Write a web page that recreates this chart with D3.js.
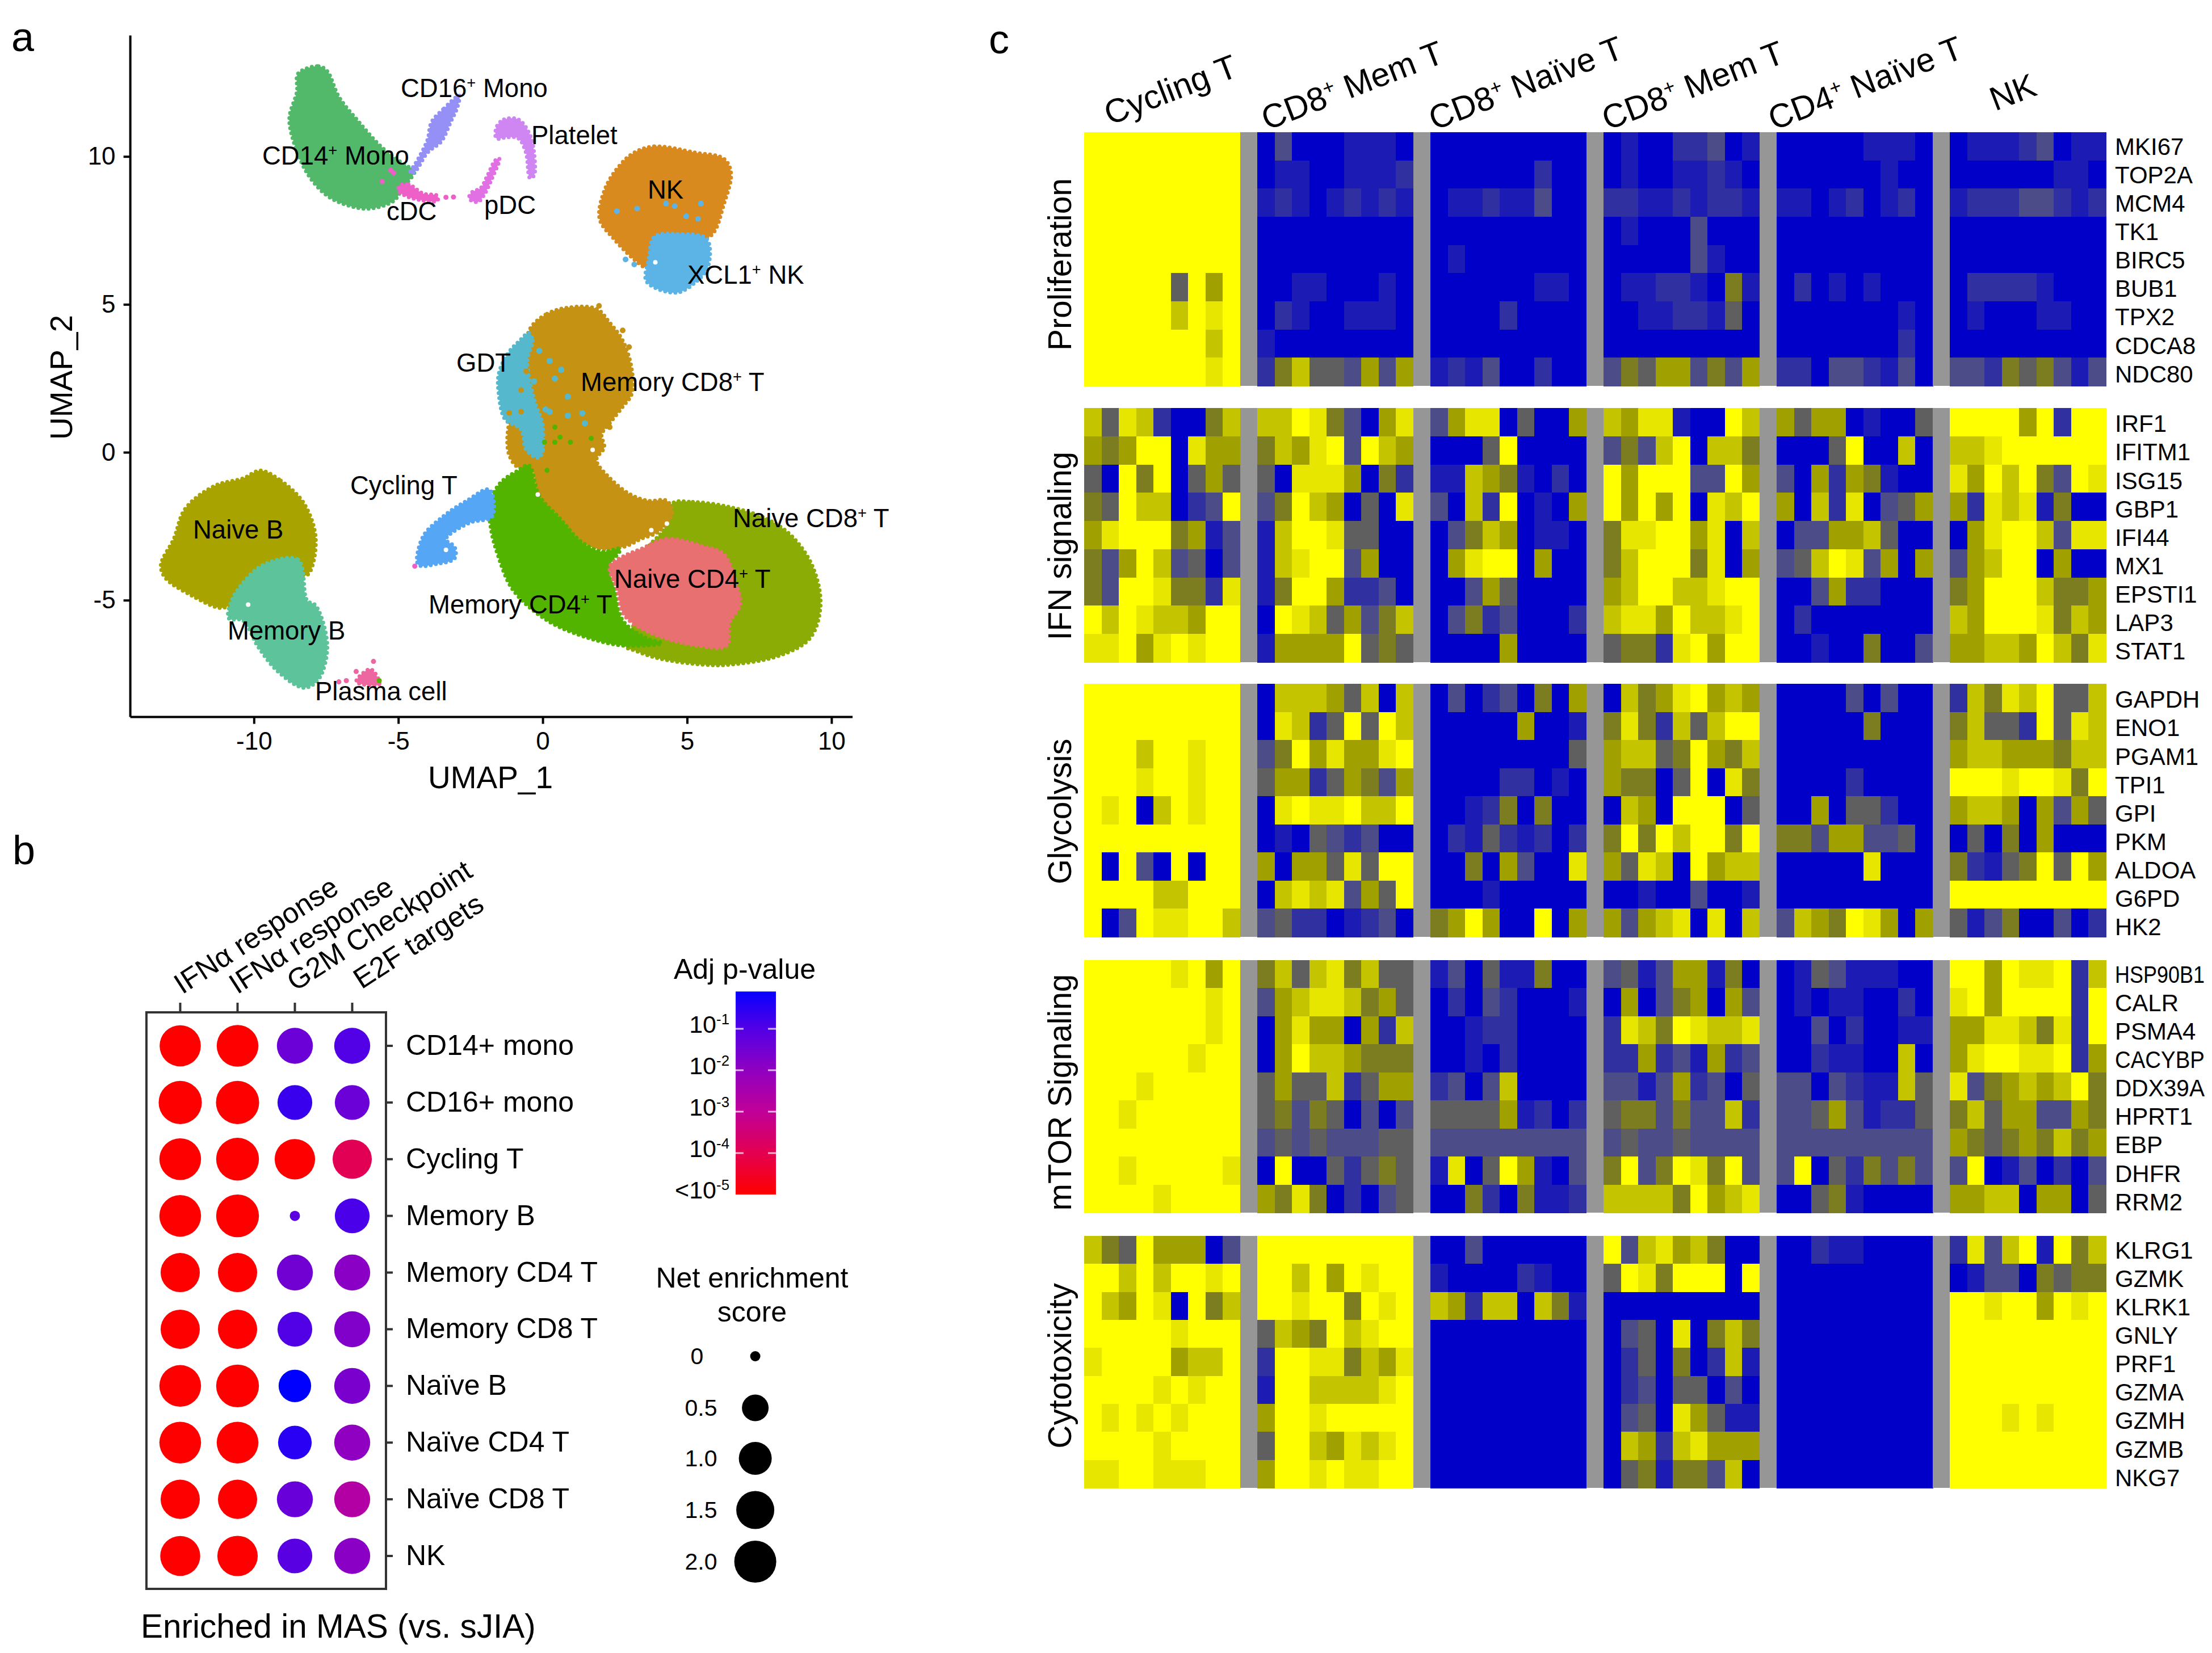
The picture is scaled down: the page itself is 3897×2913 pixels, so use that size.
<!DOCTYPE html>
<html><head><meta charset="utf-8"><script src="https://cdn.jsdelivr.net/npm/d3@7"></script>
<style>html,body{margin:0;padding:0;background:#fff}svg{display:block}text{font-family:"Liberation Sans",Arial,sans-serif;fill:#000}</style>
</head><body><svg id="c" width="3897" height="2913"></svg>
<script>
// ---------- Panel a: cluster outlines, in UMAP units [x,y]
const naiveCD8 = [[4.48,-1.73],[5.20,-1.68],[6.47,-1.85],[7.73,-2.24],[8.63,-2.84],[9.35,-3.87],[9.62,-5.16],[9.26,-6.28],[8.18,-6.88],[6.47,-7.18],[5.56,-7.18],[4.03,-6.97],[3.22,-6.71],[2.86,-6.54],[3.76,-4.65],[3.58,-3.36],[4.21,-2.59]];
const memoryCD8 = [[-0.39,4.25],[0.15,4.68],[0.87,4.89],[1.86,4.85],[2.32,4.38],[2.77,3.78],[3.08,2.83],[3.08,1.97],[2.77,1.54],[2.32,0.98],[2.04,0.60],[2.13,0.17],[1.86,-0.26],[2.32,-0.87],[3.04,-1.43],[3.67,-1.64],[4.30,-1.64],[4.48,-2.07],[4.03,-2.67],[3.40,-2.93],[2.86,-3.18],[1.95,-3.27],[1.32,-3.01],[0.60,-2.24],[-0.12,-1.47],[-0.39,-0.52],[-0.84,-0.52],[-1.16,-0.09],[-1.20,0.77],[-0.75,2.23],[-0.57,3.78]];
const memoryCD4 = [[-0.48,-0.44],[-0.12,-1.47],[0.60,-2.24],[1.32,-3.01],[2.04,-3.36],[2.68,-3.27],[2.32,-3.87],[2.50,-4.65],[2.77,-5.68],[3.58,-6.28],[4.12,-6.45],[2.86,-6.54],[1.59,-6.28],[0.15,-5.68],[-1.03,-4.65],[-1.56,-3.45],[-1.79,-2.59],[-1.84,-1.73],[-1.47,-1.04],[-0.84,-0.61]];
const gdt = [[-0.48,4.03],[-0.35,3.78],[-0.53,3.09],[-0.30,1.80],[0.01,0.85],[-0.12,-0.18],[-0.57,0.08],[-0.75,0.77],[-1.30,1.11],[-1.52,1.97],[-1.52,2.66],[-1.20,3.35],[-0.84,3.73]];
const naiveCD4 = [[3.40,-3.27],[4.30,-2.93],[5.56,-3.18],[6.28,-3.45],[6.65,-4.30],[6.83,-5.16],[6.47,-5.76],[6.37,-6.54],[5.38,-6.54],[4.21,-6.28],[3.22,-5.85],[2.77,-5.42],[2.59,-4.65],[2.32,-3.87],[2.77,-3.53]];
const cyclingT = [[-1.85,-1.26],[-1.75,-2.17],[-2.55,-2.39],[-3.35,-2.94],[-3.05,-3.20],[-3.05,-3.59],[-3.65,-3.77],[-4.31,-3.80],[-4.15,-2.86],[-3.45,-2.17],[-2.65,-1.65]];
const naiveB = [[-9.77,-0.62],[-9.07,-0.96],[-8.26,-1.74],[-7.86,-2.94],[-8.16,-4.15],[-8.77,-3.97],[-10.17,-4.49],[-10.57,-4.92],[-11.07,-5.26],[-12.18,-4.83],[-13.08,-4.23],[-13.22,-3.80],[-12.78,-2.94],[-12.38,-1.91],[-11.37,-1.14],[-10.37,-0.88]];
const memoryB = [[-9.67,-3.80],[-8.47,-3.63],[-8.16,-5.01],[-7.86,-5.18],[-7.46,-6.55],[-7.76,-7.67],[-8.26,-7.96],[-9.17,-7.41],[-9.87,-6.55],[-10.37,-5.69],[-10.87,-5.61],[-10.77,-5.01],[-10.37,-4.40]];
const plasmaCell = [[-5.96,-7.33],[-5.66,-7.84],[-6.46,-7.76]];
const cd14Mono = [[-8.47,12.80],[-7.76,13.05],[-7.46,12.88],[-7.06,12.02],[-6.36,11.16],[-5.56,10.30],[-4.75,9.70],[-4.43,9.53],[-4.85,8.93],[-5.16,8.50],[-5.96,8.24],[-6.66,8.32],[-7.46,8.67],[-8.16,9.44],[-8.67,10.65],[-8.77,11.33],[-8.51,12.19]];
const cd16Mono = [[-2.89,12.06],[-3.45,11.59],[-3.85,11.16],[-3.99,10.56],[-4.31,9.92],[-4.59,9.44],[-4.43,9.48],[-3.99,10.13],[-3.51,10.51],[-3.19,11.16],[-2.95,11.68]];
const platelet = [[-1.60,10.99],[-1.34,11.25],[-0.84,11.25],[-0.44,10.73],[-0.30,10.13],[-0.30,9.36],[-0.44,9.27],[-0.58,10.13],[-0.84,10.61],[-1.24,10.65],[-1.60,10.61]];
const pDC = [[-1.64,9.87],[-1.50,9.92],[-1.75,9.27],[-2.05,8.67],[-2.25,8.46],[-2.55,8.58],[-2.45,8.79],[-2.15,8.93],[-1.91,9.36]];
const cDC = [[-4.95,9.01],[-4.65,9.06],[-4.15,8.75],[-3.65,8.67],[-3.65,8.50],[-4.25,8.53],[-4.75,8.67],[-5.0,8.84]];
const nkCells = [[3.17,10.13],[3.87,10.34],[5.28,10.13],[6.28,9.92],[6.52,9.44],[6.28,8.41],[5.78,7.29],[4.27,7.21],[3.67,6.69],[3.57,6.26],[3.17,6.52],[2.47,7.21],[1.97,7.89],[2.17,8.93],[2.67,9.70]];
const xcl1NK = [[3.87,7.29],[4.67,7.38],[5.68,7.21],[5.72,6.26],[5.28,5.74],[4.67,5.40],[3.87,5.57],[3.57,5.83],[3.67,6.52]];
const clusterNames = ["Naive CD8","Naive B","Memory CD8","Memory CD4","GDT","Naive CD4","Cycling T","Memory B","Plasma","CD14 Mono","CD16 Mono","Platelet","pDC","cDC","NK","XCL1 NK"];
const clusterOutlines = [naiveCD8,naiveB,memoryCD8,memoryCD4,gdt,naiveCD4,cyclingT,memoryB,plasmaCell,cd14Mono,cd16Mono,platelet,pDC,cDC,nkCells,xcl1NK];
const clusterColors = ["#8BAB05","#A9A300","#C69214","#53B400","#55B8CC","#E87070","#55A6F5","#5CC39A","#EE66A0","#53B96A","#9590F5","#CF85F2","#E070E4","#EE5FC8","#D98A1E","#5BB4E5"];
const xcl1Strays = [[2.57,8.15],[3.27,8.24],[4.27,8.41],[4.57,8.32],[4.97,7.98],[5.48,8.41],[5.38,7.89],[2.87,6.52],[3.17,6.35]];
const gdtStrays = [[-0.12,3.43],[0.24,3.09],[0.64,2.79],[0.42,2.49],[0.87,1.88],[1.37,1.32],[1.46,0.98],[0.87,1.24],[-0.30,2.40],[0.10,1.45],[0.24,1.37],[-0.48,0.51],[-0.03,0.08]];
const cd8Strays = [[-0.75,2.10],[-0.57,2.74],[-1.16,1.33],[-0.75,1.37],[2.77,4.12],[2.99,3.56],[2.32,0.85],[1.95,4.95]];
const cd4Strays = [[0.42,0.85],[0.06,0.34],[1.68,0.47],[0.96,0.34],[0.42,0.34],[0.15,-0.61],[0.60,0.51],[-5.66,-7.72]];
const pinkStrays = [[-5.56,9.15],[-5.26,9.53],[-5.16,9.44],[-3.09,8.63],[-3.35,8.62],[-4.43,-3.85]];
const plasmaStrays = [[-5.86,-7.07],[-7.06,-7.76],[-6.80,-7.72],[-6.46,-7.41]];
const whiteGaps = [[3.9,6.42],[-10.2,-5.15],[-3.35,-3.3],[-0.17,-1.43],[2.95,-3.31],[3.76,-2.63],[4.30,-2.41],[1.73,0.08]];
const umapTicksX = [-10,-5,0,5,10];
const umapTicksY = [-5,0,5,10];
const umapLabels = ["CD16^+^ Mono","Platelet","CD14^+^ Mono","cDC","pDC","NK","XCL1^+^ NK","GDT","Memory CD8^+^ T","Cycling T","Naive CD8^+^ T","Naive B","Naive CD4^+^ T","Memory CD4^+^ T","Memory B","Plasma cell"];

// ---------- Panel b
const pathways = ["IFNα response","IFNα response","G2M Checkpoint","E2F targets"];
const cellTypes = ["CD14+ mono","CD16+ mono","Cycling T","Memory B","Memory CD4 T","Memory CD8 T","Naïve B","Naïve CD4 T","Naïve CD8 T","NK"];
const nesIfnA = [1.9,2.15,1.96,1.96,1.65,1.65,1.96,1.96,1.65,1.75];
const nesIfnB = [1.96,2.15,2.1,2.1,1.65,1.65,2.1,1.96,1.65,1.8];
const nesG2M = [1.3,1.18,1.8,0,1.3,1.18,0.97,1.07,1.3,1.18];
const nesE2F = [1.3,1.18,1.65,1.18,1.3,1.3,1.3,1.3,1.3,1.3];
const logpIfnA = [-5,-5,-5,-5,-5,-5,-5,-5,-5,-5];
const logpIfnB = [-5,-5,-5,-5,-5,-5,-5,-5,-5,-5];
const logpG2M = [-1.4,-0.7,-5,-1.15,-1.5,-1.0,0,-0.5,-1.35,-1.1];
const logpE2F = [-1.0,-1.4,-3.95,-0.9,-1.9,-1.75,-1.65,-2.0,-2.7,-1.9];
const pLegendTicks = [-1,-2,-3,-4,-5];
const nesLegend = [0,0.5,1.0,1.5,2.0];
const nesLegendLabels = ["0","0.5","1.0","1.5","2.0"];

// ---------- Panel c: expression levels, 0 (blue) .. 9 (yellow), six groups per gene
const groupHeaders = ["Cycling T","CD8^+^ Mem T","CD8^+^ Naïve T","CD8^+^ Mem T","CD4^+^ Naïve T","NK"];
const proliferationGenes = ["MKI67","TOP2A","MCM4","TK1","BIRC5","BUB1","TPX2","CDCA8","NDC80"];
const proliferation = [
"999999999 030001110 000000000 010022301 000001110 011123011",
"999999999 011001112 000000200 010011210 000000100 000000110",
"999999999 121012121 011211300 221121221 110120120 122233212",
"999999999 000000000 000000000 010003000 000000000 000000000",
"999999999 000000000 010000000 000003100 000000000 000000000",
"999994969 001100010 000000110 011221051 020101000 022221000",
"999997989 021001110 000020000 001122140 000000010 010001100",
"999999979 100000000 000000000 000000000 000000020 000000000",
"999999989 257443636 121300200 354663536 220332130 332545313"];
const ifnGenes = ["IRF1","IFITM1","ISG15","GBP1","IFI44","MX1","EPSTI1","LAP3","STAT1"];
const ifnSignaling = [
"748720057 779853068 368804006 768810097 646601004 999969299",
"656990866 576893976 000490000 353790775 000490070 778999999",
"409590464 408886052 117651020 969993396 306265100 869795398",
"549770239 359760408 307290106 969690879 607280346 628781500",
"689995613 179984400 035760110 588996807 033667400 068997388",
"536973403 178993600 068990600 579995806 347983606 367990600",
"539985528 159962230 003640000 679977899 003622000 569997556",
"979877699 098746357 035230002 788697789 020000000 769998576",
"889689899 166669454 000060000 455289699 001005003 667769758"];
const glycolysisGenes = ["GAPDH","ENO1","PGAM1","TPI1","GPI","PKM","ALDOA","G6PD","HK2"];
const glycolysis = [
"999999999 077764707 030230506 075689676 000030300 275879447",
"999999999 087249497 000006001 585274799 000005000 574429487",
"999799899 359686689 000000004 677459657 000000000 677666577",
"999899899 466246536 000022010 655049085 000020000 999899859",
"989079899 089889779 001250500 076099904 006044200 677606364",
"999999999 010432300 021421202 595979959 553663340 040506000",
"909309099 606648499 005063008 648709677 000008000 521459496",
"999977999 078783649 000100000 001003001 000000000 999999999",
"903988997 342201230 569600906 636780807 376598606 413500302"];
const mtorGenes = ["HSP90B1","CALR","PSMA4","CACYBP","DDX39A","HPRT1","EBP","DHFR","RRM2"];
const mtorSignaling = [
"999998969 574785744 130411500 341366150 014311100 996988927",
"999999989 367887564 020320001 060356063 010110020 896999929",
"999999989 068660627 001220000 287598778 003020011 668875829",
"999999899 069776555 001020000 226231623 002110070 689988926",
"999899999 464472466 230370000 331362304 330321174 835676795",
"998999999 453540303 444461202 455353372 334631224 574663365",
"999999999 343433344 333333333 343343333 333333333 654565756",
"998999998 090042454 180496103 593598593 390425353 390130203",
"999989999 658502034 005205112 777759678 004510000 667706604"];
const cytotoxicityGenes = ["KLRG1","GZMK","KLRK1","GNLY","PRF1","GZMA","GZMH","GZMB","NKG7"];
const cytotoxicity = [
"754966603 999999999 003000000 937867500 002110000 283791957",
"997979989 997969899 100002100 498599909 000000000 013305455",
"976980957 998995989 762770751 000000000 000000000 998996989",
"999998999 476597899 000000000 034080575 000000000 999999999",
"899996779 299885768 000000000 024050271 000000000 999999999",
"999989899 199777789 000000000 023044030 000000000 999999999",
"989898999 699899999 000000000 034086411 000000000 999898999",
"999989999 499768789 000000000 076278666 000000000 999999999",
"889988899 699898899 000000000 045155370 000000000 999999999"];
const heatTitles = ["Proliferation","IFN signaling","Glycolysis","mTOR Signaling","Cytotoxicity"];
const heatGenes = [proliferationGenes,ifnGenes,glycolysisGenes,mtorGenes,cytotoxicityGenes];
const heatRows = [proliferation,ifnSignaling,glycolysis,mtorSignaling,cytotoxicity];

// ---------- layout
const svg = d3.select("#c");
function rich(sel, str, size){
  let next = 0;
  str.split("^").forEach((p,i)=>{
    if(!p) return;
    const t = sel.append("tspan").text(p);
    if(i%2){ t.attr("dy",-size*0.35).style("font-size",(size*0.6)+"px"); next = size*0.35; }
    else { if(next) t.attr("dy",next); next = 0; }
  });
}
function panelLetter(t,x,y){ svg.append("text").attr("x",x).attr("y",y).style("font-size","72px").text(t); }
panelLetter("a",20,90); panelLetter("b",22,1523); panelLetter("c",1742,94);

// Panel a
const ux = d3.scaleLinear().domain([-14.28,10.73]).range([229.6,1502]);
const uy = d3.scaleLinear().domain([-8.95,14.09]).range([1263.6,62.5]);
const outline = d3.line().x(d=>ux(d[0])).y(d=>uy(d[1])).curve(d3.curveCatmullRomClosed.alpha(0.5));
const ga = svg.append("g");
ga.selectAll("path.cluster").data(clusterOutlines).join("path").attr("class","cluster")
  .attr("d",outline).attr("fill",(d,i)=>clusterColors[i]).attr("stroke",(d,i)=>clusterColors[i])
  .attr("stroke-width",7).attr("stroke-linecap","round").attr("stroke-dasharray","0 9");
function strays(arr,color,r){ ga.selectAll(null).data(arr).join("circle").attr("cx",d=>ux(d[0])).attr("cy",d=>uy(d[1])).attr("r",r).attr("fill",color); }
strays(whiteGaps,"#fff",4);
strays(xcl1Strays,"#5BB4E5",5); strays(gdtStrays,"#55B8CC",5.5); strays(cd8Strays,"#C69214",5); strays(cd4Strays,"#53B400",4.5);
strays(pinkStrays,"#EE5FC8",4.5); strays(plasmaStrays,"#EE66A0",4.5);
const axX = ga.append("g").attr("transform","translate(0,1263.6)").call(d3.axisBottom(ux).tickValues(umapTicksX).tickFormat(d=>String(d)).tickSize(12).tickPadding(14));
const axY = ga.append("g").attr("transform","translate(229.6,0)").call(d3.axisLeft(uy).tickValues(umapTicksY).tickFormat(d=>String(d)).tickSize(12).tickPadding(14));
[axX,axY].forEach(a=>{ a.selectAll("path,line").attr("stroke","#000").attr("stroke-width",4); a.selectAll("text").style("font-size","44px").attr("fill","#000").style("font-family",'"Liberation Sans"'); a.select("path").attr("d",a===axX?"M229.6,0H1502":"M0,62.5V1263.6"); });
ga.append("text").attr("x",864).attr("y",1389).attr("text-anchor","middle").style("font-size","55px").text("UMAP_1");
ga.append("text").attr("transform","translate(127,665) rotate(-90)").attr("text-anchor","middle").style("font-size","55px").text("UMAP_2");
const umapLabelPos = [[706,171],[936,254],[462,290],[681,388],[853,377],[1141,350],[1211,500],[804,655],[1023,689],[617,871],[1291,929],[340,949],[1082,1036],[755,1081],[401,1127],[555,1234]];
umapLabels.forEach((l,i)=>{ const t=ga.append("text").attr("x",umapLabelPos[i][0]).attr("y",umapLabelPos[i][1]).style("font-size","45.5px"); rich(t,l,45.5); });

// Panel b
const gb = svg.append("g");
const bx = d3.scalePoint().domain(d3.range(4)).range([317.5,620.5]);
const by = d3.scalePoint().domain(cellTypes).range([1843,2742]);
const rScale = d3.scaleLinear().domain([0,0.5,1,1.5,2]).range([9,23.5,29,33.5,37]);
const pColor = d3.scaleLinear().domain([-5,-4,-3,-2,-1,0]).range(["#ff0000","#e40050","#c00098","#9000c0","#5200e6","#0000ff"]);
const nesCols = [nesIfnA,nesIfnB,nesG2M,nesE2F], pCols = [logpIfnA,logpIfnB,logpG2M,logpE2F];
gb.append("rect").attr("x",258).attr("y",1784).attr("width",422).attr("height",1016).attr("fill","none").attr("stroke","#333").attr("stroke-width",4);
nesCols.forEach((col,c)=>{
  gb.selectAll(null).data(col).join("circle").attr("cx",bx(c)).attr("cy",(d,i)=>by(cellTypes[i])).attr("r",d=>rScale(d)).attr("fill",(d,i)=>pColor(pCols[c][i]));
  gb.append("line").attr("x1",bx(c)).attr("x2",bx(c)).attr("y1",1767).attr("y2",1784).attr("stroke","#333").attr("stroke-width",4);
});
cellTypes.forEach(n=>{
  gb.append("line").attr("x1",680).attr("x2",692).attr("y1",by(n)).attr("y2",by(n)).attr("stroke","#333").attr("stroke-width",4);
  gb.append("text").attr("x",715).attr("y",by(n)+16).style("font-size","50px").text(n);
});
const pwStart = [[321,1753],[418,1753],[520,1748],[637,1744]];
pathways.forEach((p,i)=>gb.append("text").attr("transform",`translate(${pwStart[i][0]},${pwStart[i][1]}) rotate(-33)`).style("font-size","50.5px").text(p));
gb.append("text").attr("x",248).attr("y",2886).style("font-size","58.5px").text("Enriched in MAS (vs. sJIA)");
gb.append("text").attr("x",1312).attr("y",1725).attr("text-anchor","middle").style("font-size","50px").text("Adj p-value");
const pBar = d3.scaleLinear().domain([-5,-1]).range([2105,1813]);
const grad = svg.append("defs").append("linearGradient").attr("id","pg").attr("x1",0).attr("x2",0).attr("y1",1).attr("y2",0);
[-5,-4,-3,-2,-1,-0.1].forEach(v=>grad.append("stop").attr("offset",(pBar(-5)-pBar(v))/(pBar(-5)-pBar(-0.1))).attr("stop-color",pColor(v)));
gb.append("rect").attr("x",1296).attr("width",71).attr("y",pBar(-0.1)).attr("height",pBar(-5)-pBar(-0.1)).attr("fill","url(#pg)");
pLegendTicks.forEach(v=>{
  if(v>-5) [[1296,1310],[1353,1367]].forEach(s=>gb.append("line").attr("x1",s[0]).attr("x2",s[1]).attr("y1",pBar(v)).attr("y2",pBar(v)).attr("stroke","#fff").attr("stroke-opacity",0.7).attr("stroke-width",3));
  const t=gb.append("text").attr("x",1285).attr("y",pBar(v)+7).attr("text-anchor","end").style("font-size","43px");
  rich(t,(v===-5?"<10":"10")+"^"+v+"^",43);
});
gb.append("text").attr("x",1325).attr("y",2269).attr("text-anchor","middle").style("font-size","50px").text("Net enrichment");
gb.append("text").attr("x",1325).attr("y",2329).attr("text-anchor","middle").style("font-size","50px").text("score");
const legY = d3.scaleLinear().domain([0,0.5,1,1.5,2]).range([2390,2481,2570,2661,2752]);
gb.selectAll(null).data(nesLegend).join("circle").attr("cx",1330.6).attr("cy",d=>legY(d)).attr("r",d=>rScale(d)).attr("fill","#000");
nesLegend.forEach((v,i)=>gb.append("text").attr("x",i?1235:1228).attr("y",legY(v)+14).attr("text-anchor","middle").style("font-size","41px").text(nesLegendLabels[i]));

// Panel c
const gc = svg.append("g").attr("shape-rendering","crispEdges");
const gt = svg.append("g");
const cx = d3.scaleBand().domain(d3.range(59)).range([1910,3710]);
const level = d3.scaleLinear().domain([0,1,2,3,4,5,6,7,8,9]).range(["#0000c8","#1c1cb4","#3030a0","#4c4c88","#5f5f5f","#7c7c20","#a0a000","#c4c400","#e6e600","#ffff00"]);
const panelTop = [233,719,1205,1692,2178], panelBottom = [680,1167,1651,2137,2622];
const titleCentre = [466,962,1430,1925,2407];
const labelShift = [0,2.5,2.5,0,0];
heatRows.forEach((rows,p)=>{
  const cy = d3.scaleBand().domain(heatGenes[p]).range([panelTop[p],panelBottom[p]]);
  const cells = [];
  rows.forEach((r,ri)=>r.split(" ").forEach((g,gi)=>g.split("").forEach((ch,ci)=>cells.push({gene:heatGenes[p][ri],col:gi*10+ci,v:+ch}))));
  gc.selectAll(null).data(cells).join("rect").attr("x",d=>cx(d.col)).attr("y",d=>cy(d.gene)).attr("width",cx.bandwidth()+0.6).attr("height",cy.bandwidth()+0.6).attr("fill",d=>level(d.v));
  gc.selectAll(null).data(d3.range(5)).join("rect").attr("x",g=>cx(g*10+9)).attr("y",panelTop[p]).attr("width",cx.bandwidth()).attr("height",panelBottom[p]-panelTop[p]).attr("fill","#969696");
  heatGenes[p].forEach((g,ri)=>{
    const t=gt.append("text").attr("x",3726).attr("y",panelTop[p]+39.8+labelShift[p]+ri*50.1).style("font-size","42px").text(g);
    const w=t.node().getComputedTextLength();
    if(3726+w>3884) t.attr("textLength",3884-3726).attr("lengthAdjust","spacingAndGlyphs");
  });
  gt.append("text").attr("transform",`translate(1887,${titleCentre[p]}) rotate(-90)`).attr("text-anchor","middle").style("font-size","57px").text(heatTitles[p]);
});
const headStart = [[1955,221],[2232,230],[2527,230],[2832,230],[3125,230],[3515,196]];
groupHeaders.forEach((h,i)=>{ const t=gt.append("text").attr("transform",`translate(${headStart[i][0]},${headStart[i][1]}) rotate(-21)`).style("font-size","59px"); rich(t,h,59); });
</script></body></html>
